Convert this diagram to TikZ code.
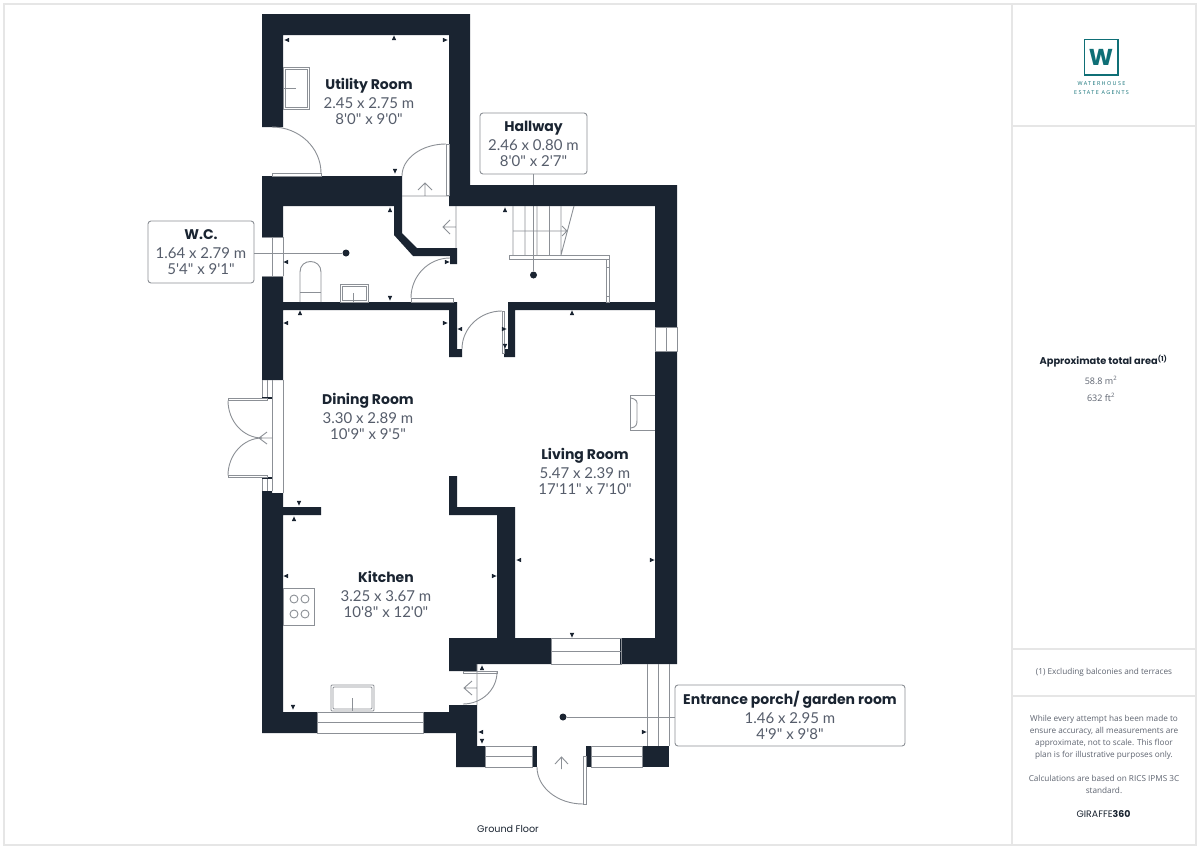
\documentclass[tikz,border=0pt]{standalone}
\usepackage{fontspec}
\setmainfont{Open Sans}
\newfontfamily\labf{Lato}
\newfontfamily\titlef{Poppins}
\newfontfamily\logofont[LetterSpace=26]{Open Sans}
\usetikzlibrary{calc}
\definecolor{wall}{HTML}{1A2431}
\definecolor{ink}{HTML}{565D6B}
\definecolor{gl}{HTML}{8C9096}
\definecolor{frame}{HTML}{E6E6E6}
\definecolor{teal}{HTML}{0F6F76}
\definecolor{side}{HTML}{5E6470}
\tikzset{
 wallfill/.style={fill=wall,draw=none},
 ln/.style={draw=gl,line width=0.9pt},
 frameline/.style={draw=frame,line width=1.2pt},
 callout/.style={draw=gl,line width=0.9pt,rounded corners=3pt,fill=white,inner sep=0pt},
 room/.style={align=center,font=\labf\fontsize{15}{16}\selectfont,text=ink,inner sep=0pt},
 dot/.style={circle,fill=wall,minimum size=7pt,inner sep=0pt},
 sidetxt/.style={align=center,font=\fontsize{9}{12}\selectfont,text=side,inner sep=0pt},
 leader/.style={draw=gl,line width=0.9pt}
}
\newcommand{\rname}[1]{{\titlef\fontsize{14}{16}\selectfont\bfseries\color{wall}#1}}
\newcommand{\qa}[3]{\draw[ln] (#1) .. controls ($(#1)!.5523!(#2)$) and ($(#3)!.5523!(#2)$) .. (#3);}
\newcommand{\mU}[2]{\fill[wall] (#1-2.2,#2+2.2)--(#1+2.2,#2+2.2)--(#1,#2-2.6)--cycle;}
\newcommand{\mD}[2]{\fill[wall] (#1-2.2,#2-2.2)--(#1+2.2,#2-2.2)--(#1,#2+2.6)--cycle;}
\newcommand{\mL}[2]{\fill[wall] (#1+2.2,#2-2.2)--(#1+2.2,#2+2.2)--(#1-2.6,#2)--cycle;}
\newcommand{\mR}[2]{\fill[wall] (#1-2.2,#2-2.2)--(#1-2.2,#2+2.2)--(#1+2.6,#2)--cycle;}
\begin{document}
\begin{tikzpicture}[x=1pt,y=-1pt]
\useasboundingbox (0,0) rectangle (1200,849);
\fill[white] (0,0) rectangle (1200,849);
% frame
\draw[frameline] (4,4)--(1196,4)--(1196,845)--(4,845)--cycle;
\draw[frameline] (1012,4)--(1012,845);
\draw[frameline] (1012,126)--(1196,126) (1012,649)--(1196,649) (1012,696)--(1196,696);
% leaders lie under the plan
\node[dot] (wcdot) at (346,253) {};
\node[dot] (halldot) at (533.5,275) {};
\node[dot] (porchdot) at (563,717) {};
\node[callout,minimum width=106pt,minimum height=62pt] (wcbox) at (201,252) {};
\node[callout,minimum width=107pt,minimum height=61pt] (hallbox) at (533.5,143.5) {};
\node[callout,minimum width=230pt,minimum height=61pt] (porchbox) at (790,715.5) {};
\draw[leader] (wcbox.east |- wcdot) -- (wcdot);
\draw[leader] (hallbox.south) -- (halldot);
\draw[leader] (porchdot) -- (porchbox.west |- porchdot);
% walls
\fill[wallfill] (262,14)--(470,14)--(470,185)--(677,185)--(677,327)--(655,327)--(655,206)--(449,206)--(449,35)--(283,35)--(283,127)--(262,127)--cycle;
\fill[wallfill] (262,176)--(402,176)--(402,233)--(417,248)--(457,248)--(457,264)--(450,264)--(450,256)--(413,256)--(394,235)--(394,206)--(283,206)--(283,237)--(262,237)--cycle;
\fill[wallfill] (262,276)--(283,276)--(283,302)--(457,302)--(457,349)--(462,349)--(462,357)--(449,357)--(449,310)--(283,310)--(283,380)--(262,380)--cycle;
\fill[wallfill] (508,302)--(655,302)--(655,310)--(515,310)--(515,357)--(504,357)--(504,349)--(508,349)--cycle;
\fill[wallfill] (655,351)--(677,351)--(677,664)--(620,664)--(620,638)--(655,638)--cycle;
\fill[wallfill] (449,476)--(457,476)--(457,507)--(515,507)--(515,638)--(551,638)--(551,664)--(477,664)--(477,671)--(449,671)--(449,638)--(497,638)--(497,515)--(449,515)--cycle;
\fill[wallfill] (262,491)--(272,491)--(272,493)--(283,493)--(283,507)--(321,507)--(321,515)--(283,515)--(283,712)--(317,712)--(317,733)--(262,733)--cycle;
\fill[wallfill] (423,712)--(449,712)--(449,705)--(477,705)--(477,746)--(485,746)--(485,767)--(456,767)--(456,733)--(423,733)--cycle;
\fill[wallfill] (532,746) rectangle (537,767);
\fill[wallfill] (586,746) rectangle (591,767);
\fill[wallfill] (642,746) rectangle (669,767);
% windows
\draw[ln] (262,237)--(283,237) (262,276)--(283,276) (272.5,237)--(272.5,276) (283,237)--(283,276);
\draw[ln] (655,327) rectangle (677,351) (666,327)--(666,351);
\draw[ln] (551,638) rectangle (621,664) (551,651)--(621,651);
\draw[ln] (317,712) rectangle (423,733) (317,722.5)--(423,722.5);
\draw[ln] (485,746) rectangle (532,767) (485,756)--(532,756);
\draw[ln] (591,746) rectangle (642,767) (591,756)--(642,756);
\draw[ln] (647.5,664)--(647.5,746) (658,664)--(658,746) (669,664)--(669,746);
% French doors
\draw[ln] (262,380)--(262,398) (267,380)--(267,398) (262,478)--(262,491) (267,478)--(267,491);
\draw[ln] (272,380)--(272,491) (283,380)--(283,493);
\draw[wall,line width=1.4pt] (262,398)--(272,398) (262,478)--(272,478);
\draw[ln] (228,398.5) rectangle (267,400.5) (228,475.5) rectangle (267,477.5);
\qa{228,400.5}{228,438}{262,438}
\qa{228,475.5}{228,438}{262,438}
\draw[ln] (267,432)--(259,438)--(267,444) (259,438)--(272,438);
% other doors
\qa{272,127}{321,127}{321,173}
\draw[ln] (272,173) rectangle (321,176);
\qa{402,176}{402,144}{446,144}
\draw[ln] (446,144) rectangle (449,195);
\draw[ln] (402,196)--(449,196) (425,196)--(425,183) (418,190)--(425,183)--(432,190);
\draw[ln] (456,206)--(456,248) (456,227)--(443,227) (450,220)--(443,227)--(450,234);
\qa{411,298}{411,258}{450,258}
\draw[ln] (411,298.5) rectangle (453,302);
\qa{462,349}{462,311}{502,311}
\draw[ln] (502,311) rectangle (504.5,353);
\qa{497,672}{497,704}{463,704}
\draw[ln] (463,671) rectangle (497,673.5);
\draw[ln] (477,664)--(477,705) (477,688)--(464,688) (472,681)--(464,688)--(472,695);
\qa{537,767}{537,804}{583,804}
\draw[ln] (583,756) rectangle (586,804);
\draw[ln] (561.5,769)--(561.5,757) (555,764)--(561.5,757)--(568,764);
% utility sink
\draw[ln] (283,67) rectangle (309,109);
\draw[ln] (285,69) rectangle (307,107);
\draw[ln] (283,88)--(296,88);
% toilet, basin
\draw[ln] (300,302)--(300,272) .. controls (300,258) and (321,258) .. (321,272)--(321,302);
\draw[ln] (300,292)--(321,292);
\draw[ln] (340,284) rectangle (368,302);
\draw[ln] (342,286) rectangle (366,300);
\draw[ln] (353,293)--(353,302);
% stairs
\draw[ln] (513,206)--(513,255) (525,206)--(525,255) (537,206)--(537,255) (549.5,206)--(549.5,255) (561,206)--(561,255) (574,206)--(561,255);
\draw[ln] (513,231)--(567,231) (562,226)--(567,231)--(562,236);
\draw[ln] (509.5,255) rectangle (609,259);
\draw[ln] (606,259) rectangle (609,302) (606,267)--(609,267) (606,296)--(609,296);
% stove, kitchen sink, fireplace
\draw[ln] (283,588) rectangle (314,625);
\foreach \a/\b in {294/599,305/599,294/614,305/614} \draw[ln] (\a,\b) circle (4);
\draw[ln,rounded corners=1pt] (331,685) rectangle (374,711);
\draw[ln,rounded corners=1pt] (333,687) rectangle (372,709);
\draw[ln] (352,698)--(352,711);
\draw[ln] (655,395)--(630,395)--(630,430)--(655,430);
\draw[ln] (631,398) .. controls (638,400) and (637,402) .. (637,406)--(637,420) .. controls (637,425) and (636,427) .. (631,428);
% dimension marks
\mL{287}{40}\mU{394}{38}\mR{445}{40}\mD{395}{171}
\mU{390}{210}\mL{286}{262}\mD{390}{298}\mR{447}{262}
\mU{300}{313}\mL{286}{323}\mR{445}{323}\mL{460}{329}
\mU{505}{210}\mU{572}{313}\mR{504}{329}\mD{505}{346}
\mD{299}{503}\mU{294}{519}
\mL{286}{576}\mR{494}{576}\mD{293}{707}
\mL{519}{560}\mR{652}{560}\mD{572}{635}
\mU{482}{668}\mL{481}{732}\mD{482}{741}\mR{644}{732}
% room labels
\node[room] (utility) at (369,101) {\rname{Utility Room}\\[3pt]2.45 x 2.75 m\\8'0" x 9'0"};
\node[room] (dining) at (368,416) {\rname{Dining Room}\\[3pt]3.30 x 2.89 m\\10'9" x 9'5"};
\node[room] (living) at (585,471) {\rname{Living Room}\\[3pt]5.47 x 2.39 m\\17'11" x 7'10"};
\node[room] (kitchen) at (386,594) {\rname{Kitchen}\\[3pt]3.25 x 3.67 m\\10'8" x 12'0"};
\node[room] (hallt) at (hallbox) {\rname{Hallway}\\[3pt]2.46 x 0.80 m\\8'0" x 2'7"};
\node[room] (wct) at (wcbox) {\rname{W.C.}\\[3pt]1.64 x 2.79 m\\5'4" x 9'1"};
\node[room] (porcht) at (porchbox) {\rname{Entrance porch/ garden room}\\[3pt]1.46 x 2.95 m\\4'9" x 9'8"};
\node[font=\titlef\fontsize{9.6}{11}\selectfont,text=wall,inner sep=0pt] (floor) at (508,829) {Ground Floor};
% logo
\draw[teal,line width=1.6pt] (1084.5,39.5) rectangle (1118,75);
\node[font=\titlef\fontsize{23}{24}\selectfont\bfseries,text=teal,inner sep=0pt] (logow) at (1101,57.5) {W};
\node[font=\logofont\fontsize{5.4}{8.5}\selectfont,text=teal,align=center,inner sep=0pt] (logotxt) at (1101.5,88) {WATERHOUSE\\ESTATE AGENTS};
% side texts
\node[font=\titlef\fontsize{9.8}{12}\selectfont\bfseries,text=wall,inner sep=0pt] (area) at (1103.5,361) {Approximate total area\textsuperscript{(1)}};
\node[sidetxt] (m2) at (1101,380) {58.8 m\textsuperscript{2}};
\node[sidetxt] (ft2) at (1101,397) {632 ft\textsuperscript{2}};
\node[sidetxt,font=\fontsize{8.2}{12}\selectfont] (excl) at (1104,672) {(1) Excluding balconies and terraces};
\node[sidetxt,font=\fontsize{8.2}{12}\selectfont] (disc) at (1104,737) {While every attempt has been made to\\ensure accuracy, all measurements are\\approximate, not to scale. This floor\\plan is for illustrative purposes only.};
\node[sidetxt,font=\fontsize{8.2}{12}\selectfont] (calc) at (1104,784) {Calculations are based on RICS IPMS 3C\\standard.};
\node[font=\titlef\fontsize{9.4}{11}\selectfont,text=wall,inner sep=0pt] (gir) at (1103.5,814) {GIRAFFE\textbf{360}};
\end{tikzpicture}
\end{document}
